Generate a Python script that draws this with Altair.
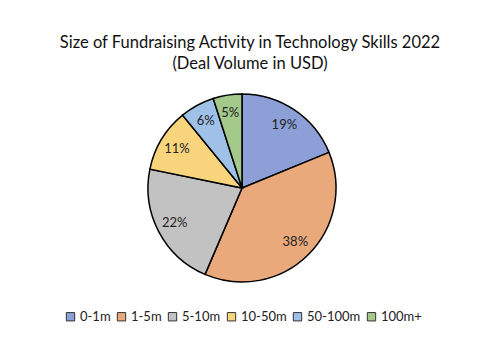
import altair as alt
import pandas as pd

categories = ["0-1m", "1-5m", "5-10m", "10-50m", "50-100m", "100m+"]
shares = [19, 38, 22, 11, 6, 5]
labels = ["19%", "38%", "22%", "11%", "6%", "5%"]
colors = ["#8c9fd7", "#e9a97b", "#c2c2c2", "#f8d57d", "#9fc0e7", "#a3c98b"]

df = pd.DataFrame({"cat": categories, "share": shares, "label": labels,
                   "order": list(range(len(categories)))})

FONT = "Lato"
CX, CY, R = 242, 118, 94

base = alt.Chart(df).encode(
    theta=alt.Theta("share:Q", stack=True),
    order=alt.Order("order:Q"),
)

pie = base.mark_arc(radius=R, stroke="black", strokeWidth=1.5).encode(
    x=alt.value(CX), y=alt.value(CY),
    color=alt.Color("cat:N", scale=alt.Scale(domain=categories, range=colors),
                    sort=categories,
                    legend=alt.Legend(title=None, orient="none", direction="horizontal",
                                      legendX=64, legendY=240,
                                      symbolType="square", symbolSize=70,
                                      symbolStrokeColor="#333", symbolStrokeWidth=1,
                                      symbolOpacity=1,
                                      labelFont=FONT, labelFontSize=13, labelColor="#222",
                                      columnPadding=4, labelOffset=3)),
)

text = base.mark_text(radius=76, font=FONT, fontSize=13, color="#222").encode(
    x=alt.value(CX), y=alt.value(CY),
    text="label:N",
)

chart = (pie + text).properties(
    width=500, height=283,
    padding={"top": 70, "left": 0, "right": 0, "bottom": 0},
    autosize=alt.AutoSizeParams(type="none"),
    title=alt.TitleParams(
        text=["Size of Fundraising Activity in Technology Skills 2022", "(Deal Volume in USD)"],
        font=FONT, fontSize=16.5, fontWeight="normal", color="#111", lineHeight=21,
        anchor="middle", frame="group", offset=8, dy=10,
    ),
).configure_view(stroke=None)

chart.save("out.html", embed_options={"renderer": "svg", "actions": False})
